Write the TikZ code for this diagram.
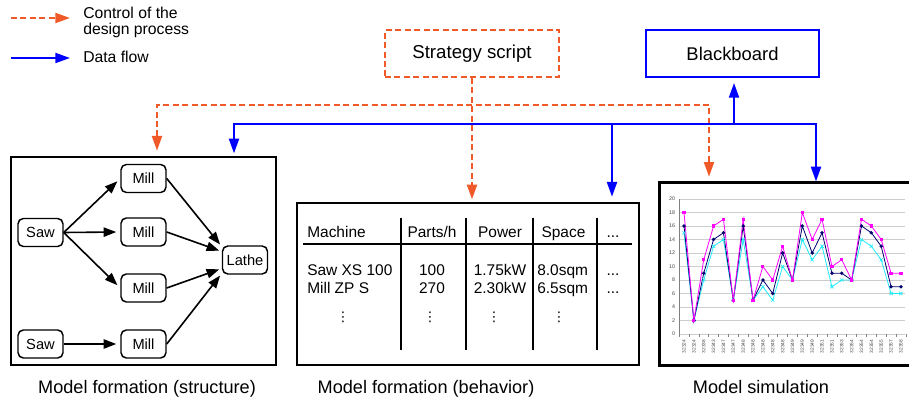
\documentclass[tikz,border=0pt]{standalone}
\usepackage{fontspec}
\setmainfont{Liberation Sans}
\newfontfamily\dejavu{DejaVu Sans}
\usetikzlibrary{arrows.meta,fit}
\definecolor{ctrl}{RGB}{240,90,40}
\definecolor{dflow}{RGB}{0,0,255}
\definecolor{navyc}{RGB}{0,0,110}
\definecolor{magc}{RGB}{255,0,255}
\definecolor{cyanc}{RGB}{30,235,250}
\definecolor{gridc}{RGB}{205,205,205}
\definecolor{labc}{RGB}{70,70,70}
\begin{document}
\begin{tikzpicture}[x=0.75pt,y=-0.75pt,
  ctrlline/.style={draw=ctrl,line width=1.5pt,dash pattern=on 4.5pt off 2.6pt},
  flowline/.style={draw=dflow,line width=1.5pt},
  bigtips/.style={>={Triangle[length=11pt,width=7.5pt]}},
  machine/.style={draw,line width=1.1pt,rounded corners=4pt,minimum width=33.75pt,minimum height=21pt,inner sep=1pt,font=\fontsize{11}{13}\selectfont},
  legtext/.style={anchor=base west,inner sep=0pt,font=\fontsize{11.8}{14}\selectfont},
  tabtext/.style={inner sep=0pt,font=\fontsize{11.6}{14}\selectfont},
  caption/.style={anchor=base,inner sep=0pt,font=\fontsize{13.6}{16}\selectfont},
  ylab/.style={anchor=east,inner sep=0.5pt,text=labc,font=\fontsize{4}{5}\selectfont},
  xlab/.style={anchor=east,rotate=90,inner sep=0.5pt,text=labc,font=\fontsize{3.6}{4.5}\selectfont},
  magsq/.style={fill=magc,inner sep=0pt,minimum size=2.4pt},
  navydm/.style={fill=navyc,inner sep=0pt,minimum size=2pt,rotate=45}
]
\useasboundingbox (0,0) rectangle (909,398);

% ---------- legend ----------
\coordinate (la) at (11,18);
\coordinate (lb) at (70,18);
\coordinate (lc) at (11,58);
\coordinate (ld) at (70,58);
\draw[ctrlline,bigtips,->] (la) -- (lb);
\draw[flowline,bigtips,->] (lc) -- (ld);
\node[legtext] (lt1) at (83,19) {Control of the};
\node[legtext] (lt2) at (83,35) {design process};
\node[legtext] (lt3) at (83,63) {Data flow};

% ---------- top boxes ----------
\node[ctrlline,minimum width=130.5pt,minimum height=35.25pt,inner sep=0pt,font=\fontsize{14}{16}\selectfont] (strat) at (472,53.5) {Strategy script};
\node[flowline,minimum width=129.75pt,minimum height=35.25pt,inner sep=0pt,font=\fontsize{13.8}{16}\selectfont] (bb) at (732.5,53.5) {Blackboard};

% ---------- panels ----------
\coordinate (s1) at (11,157);
\coordinate (s2) at (276,365);
\node[draw,line width=1.5pt,fit=(s1)(s2),inner sep=0pt] (struct) {};
\coordinate (t1) at (297,203);
\coordinate (t2) at (639,365);
\node[draw,line width=1.5pt,fit=(t1)(t2),inner sep=0pt] (table) {};
\coordinate (k1) at (660,183);
\coordinate (k2) at (912,365);
\node[fit=(k1)(k2),inner sep=0pt] (chart) {};
\draw[line width=2.2pt] (chart.north east) -- (chart.north west) -- (chart.south west) -- (chart.south east);

% ---------- control flow (dashed) ----------
\coordinate (cL) at (157,105);
\coordinate (cR) at (709,105);
\draw[ctrlline,bigtips,<->,shorten <=4pt,shorten >=4.5pt] (cL |- struct.north) -- (cL) -- (cR) -- (cR |- chart.north);
\draw[ctrlline,bigtips,->,shorten >=2pt] (strat.south) -- (strat.south |- table.north);

% ---------- data flow ----------
\coordinate (bL) at (234,124);
\coordinate (bR) at (816,124);
\coordinate (bM) at (612,124);
\coordinate (bB) at (734,124);
\draw[flowline,bigtips,<->,shorten <=2pt,shorten >=1pt] (bL |- struct.north) -- (bL) -- (bR) -- (bR |- chart.north);
\draw[flowline,bigtips,->,shorten >=4pt] (bM) -- (bM |- table.north);
\draw[flowline,bigtips,->,shorten >=3.75pt] (bB) -- (bB |- bb.south);

% ---------- structure graph ----------
\node[machine] (saw1) at (40.5,232.5) {Saw};
\node[machine] (saw2) at (40.5,344) {Saw};
\node[machine] (mill1) at (143.5,178.5) {Mill};
\node[machine] (mill2) at (143.5,232) {Mill};
\node[machine] (mill3) at (143.5,288) {Mill};
\node[machine] (mill4) at (143.5,344) {Mill};
\node[machine] (lathe) at (245,260) {Lathe};
\begin{scope}[>={Triangle[length=9.5pt,width=7pt]},line width=1.2pt]
\draw[->,shorten >=3pt] (saw1.east) -- (mill1.west);
\draw[->,shorten >=3pt] (saw1.east) -- (mill2.west);
\draw[->,shorten >=3pt] (saw1.east) -- (mill3.west);
\draw[->,shorten >=3pt] (saw2.east) -- (mill4.west);
\draw[->,shorten >=2pt] (mill1.east) -- (lathe.150);
\draw[->,shorten >=2pt] (mill2.east) -- (lathe.160);
\draw[->,shorten >=2pt] (mill3.east) -- (lathe.200);
\draw[->,shorten >=2pt] (mill4.east) -- (lathe.210);
\end{scope}

% ---------- behaviour table ----------
\foreach \x in {401,466,533,597} \draw[line width=1.4pt] (\x,218) -- (\x,350);
\draw[line width=1.4pt] (303,244) -- (632,244);
\node[tabtext,anchor=base west] (h1) at (307,238) {Machine};
\node[tabtext,anchor=base] (h2) at (432,238) {Parts/h};
\node[tabtext,anchor=base] (h3) at (500,238) {Power};
\node[tabtext,anchor=base] (h4) at (563.5,238) {Space};
\node[tabtext,anchor=base] (h5) at (613,238) {...};
\node[tabtext,anchor=base west] (r1a) at (307,276) {Saw XS 100};
\node[tabtext,anchor=base] (r1b) at (432,276) {100};
\node[tabtext,anchor=base] (r1c) at (500,276) {1.75kW};
\node[tabtext,anchor=base west] (r1d) at (537,276) {8.0sqm};
\node[tabtext,anchor=base] (r1e) at (613,276) {...};
\node[tabtext,anchor=base west] (r2a) at (307,294) {Mill ZP S};
\node[tabtext,anchor=base] (r2b) at (432,294) {270};
\node[tabtext,anchor=base] (r2c) at (500,294) {2.30kW};
\node[tabtext,anchor=base west] (r2d) at (537,294) {6.5sqm};
\node[tabtext,anchor=base] (r2e) at (613,294) {...};
\foreach \x [count=\j] in {343,430,494,559}
  \node[inner sep=0pt,font=\dejavu\fontsize{10}{12}\selectfont] (vd\j) at (\x,317) {⋮};

% ---------- simulation chart ----------
\foreach \k in {0,2,...,20} {
  \draw[gridc,line width=0.4pt] (679,{334-6.75*\k}) -- (905,{334-6.75*\k});
  \node[ylab] (yl\k) at (676,{334-6.75*\k}) {\k};
}
\draw[gray,line width=0.4pt] (679,199) -- (679,334);
\foreach \i in {0,...,23} \draw[gray,line width=0.3pt] ({679+9.86*\i},334) -- ++(0,3);
\foreach \l [count=\i from 0] in {32324,32324,32338,32343,32347,32347,32348,32348,32348,32348,32348,32349,32349,32349,32351,32351,32353,32354,32354,32354,32355,32357,32358}
  \node[xlab] (xl\i) at ({684+9.86*\i},339) {\l};
\foreach \v [count=\i from 0] in {15,2,8,13,14,5,14,5,7,5,10,8,14,11,13,7,8,8,14,13,11,6,6}
  \coordinate (c\i) at ({684+9.86*\i},{334-6.75*\v});
\foreach \v [count=\i from 0] in {16,2,9,14,15,5,16,5,8,6,12,8,16,12,15,9,9,8,16,15,13,7,7}
  \coordinate (n\i) at ({684+9.86*\i},{334-6.75*\v});
\foreach \v [count=\i from 0] in {18,2,11,16,17,5,17,5,10,8,13,8,18,14,17,10,11,8,17,16,14,9,9}
  \coordinate (m\i) at ({684+9.86*\i},{334-6.75*\v});
\draw[cyanc,line width=0.6pt] (c0) \foreach \i in {1,...,22} {-- (c\i)};
\draw[navyc,line width=0.6pt] (n0) \foreach \i in {1,...,22} {-- (n\i)};
\draw[magc,line width=0.6pt] (m0) \foreach \i in {1,...,22} {-- (m\i)};
\foreach \i in {0,...,22} {
  \draw[cyanc,line width=0.5pt] (c\i) +(-1.6,-1.6) -- +(1.6,1.6) +(-1.6,1.6) -- +(1.6,-1.6);
  \node[navydm] (nd\i) at (n\i) {};
  \node[magsq] (ms\i) at (m\i) {};
}

% ---------- captions ----------
\node[caption] (cap1) at (147,393) {Model formation (structure)};
\node[caption] (cap2) at (426,393) {Model formation (behavior)};
\node[caption] (cap3) at (761,393) {Model simulation};
\end{tikzpicture}
\end{document}
